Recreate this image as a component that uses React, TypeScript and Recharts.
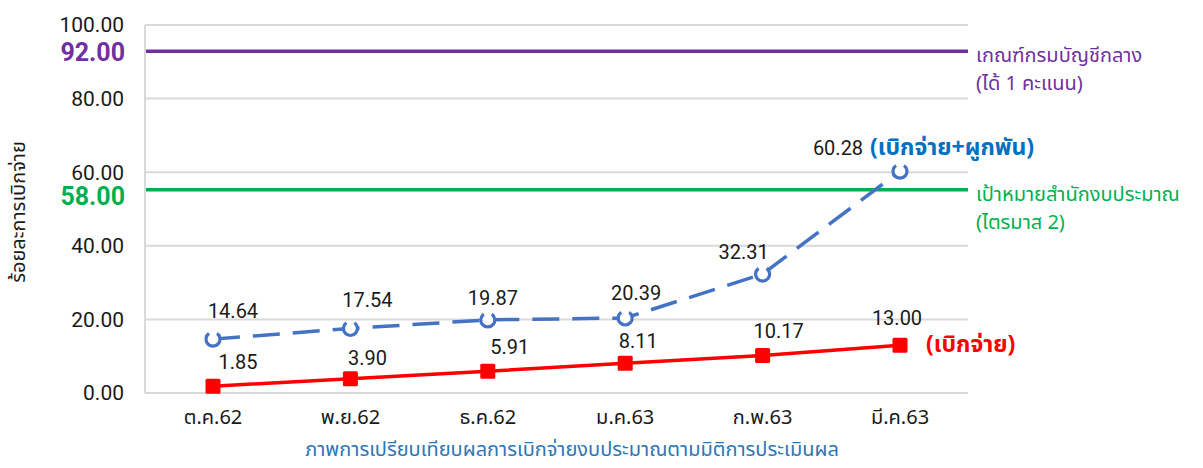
import { LineChart, Line, XAxis, YAxis, CartesianGrid, ReferenceLine } from "recharts";

const months = ["ต.ค.62", "พ.ย.62", "ธ.ค.62", "ม.ค.63", "ก.พ.63", "มี.ค.63"];
const committed = [14.64, 17.54, 19.87, 20.39, 32.31, 60.28];
const disbursed = [1.85, 3.9, 5.91, 8.11, 10.17, 13.0];
const yTicks = [0, 20, 40, 60, 80, 100];

// where the two target lines sit in the picture, and what their labels say
const cgdLine = 92.9;
const cgdLabel = "92.00";
const budgetLine = 55.2;
const budgetLabel = "58.00";

// label nudges (dx, dy) per point, as in the original Excel chart
const committedShift = [[20, -28], [17, -28], [5, -22], [11, -25], [-19, -22], [-62, -23]];
const disbursedShift = [[25, -24], [17, -21], [22, -24], [13, -22], [16, -25], [-3, -27]];

const data = months.map((m, i) => ({ month: m, committed: committed[i], disbursed: disbursed[i] }));

const FONT = "'Noto Sans Thai', Tahoma, Roboto, sans-serif";
const NUM_FONT = "Roboto, 'Noto Sans', sans-serif";

const OpenCircle = (props: any) => {
  const { cx, cy } = props;
  if (cx == null || cy == null) return null;
  return (
    <g>
      <circle cx={cx} cy={cy} r={7} fill="#fff" />
      <path
        d={`M ${cx + 4} ${cy - 5.7} A 7 7 0 1 1 ${cx - 4} ${cy - 5.7}`}
        fill="none"
        stroke="#4472C4"
        strokeWidth={3.2}
      />
    </g>
  );
};

const RedSquare = (props: any) => {
  const { cx, cy } = props;
  if (cx == null || cy == null) return null;
  return <rect x={cx - 7.5} y={cy - 7.5} width={15} height={15} rx={1.5} fill="#FF0000" />;
};

const makeLabel = (
  shift: number[][],
  values: number[],
  tag: string,
  tagColor: string,
  tagDx: number,
  tagDy: number
) => (props: any) => {
  const { x, y, index } = props;
  const [dx, dy] = shift[index];
  const isLast = index === values.length - 1;
  return (
    <g>
      <text x={x + dx} y={y + dy} textAnchor="middle" dominantBaseline="central" fontFamily={NUM_FONT} fontSize={20} fill="#1a1a1a">
        {values[index].toFixed(2)}
      </text>
      {isLast && (
        <text x={x + tagDx} y={y + tagDy} textAnchor="start" dominantBaseline="central" fontFamily={FONT} fontSize={23} fontWeight={700} fill={tagColor}>
          {tag}
        </text>
      )}
    </g>
  );
};

const targetLabel = (value: string, color: string, line1: string, line2: string, valueDy: number) => (props: any) => {
  const { viewBox } = props;
  const { x, y, width } = viewBox;
  return (
    <g>
      <text x={x - 20} y={y + valueDy} textAnchor="end" dominantBaseline="central" fontFamily={NUM_FONT} fontSize={25} fontWeight={700} fill={color}>
        {value}
      </text>
      <text x={x + width + 8} y={y + 5} textAnchor="start" dominantBaseline="central" fontFamily={FONT} fontSize={20} fill={color}>
        {line1}
      </text>
      <text x={x + width + 8} y={y + 33} textAnchor="start" dominantBaseline="central" fontFamily={FONT} fontSize={20} fill={color}>
        {line2}
      </text>
    </g>
  );
};

export default function App() {
  return (
    <div style={{ position: "absolute", left: 0, top: 0, width: 1203, height: 468, background: "#fff" }}>
      <LineChart width={1203} height={468} data={data} margin={{ top: 25, right: 235, bottom: 30, left: 0 }}>
        <CartesianGrid vertical={false} stroke="#D9D9D9" strokeWidth={2} />
        <XAxis
          dataKey="month"
          height={45}
          padding={{ left: 68, right: 68 }}
          axisLine={false}
          tickLine={false}
          tickSize={0}
          tickMargin={17}
          tick={{ fontFamily: FONT, fontSize: 20, fill: "#1a1a1a" }}
          interval={0}
        />
        <YAxis
          width={145}
          domain={[0, 100]}
          ticks={yTicks}
          tickFormatter={(v: number) => v.toFixed(2)}
          axisLine={{ stroke: "#D9D9D9", strokeWidth: 2 }}
          tickLine={false}
          tickSize={0}
          tickMargin={21}
          tick={{ fontFamily: NUM_FONT, fontSize: 21, fill: "#1a1a1a" }}
        />
        <ReferenceLine
          y={cgdLine}
          stroke="#7030A0"
          strokeWidth={3.5}
          label={targetLabel(cgdLabel, "#7030A0", "เกณฑ์กรมบัญชีกลาง", "(ได้ 1 คะแนน)", 1)}
        />
        <ReferenceLine
          y={budgetLine}
          stroke="#00B050"
          strokeWidth={3.5}
          label={targetLabel(budgetLabel, "#00B050", "เป้าหมายสำนักงบประมาณ", "(ไตรมาส 2)", 7)}
        />
        <Line
          dataKey="disbursed"
          stroke="#FF0000"
          strokeWidth={3.5}
          dot={<RedSquare />}
          activeDot={false}
          isAnimationActive={false}
          label={makeLabel(disbursedShift, disbursed, "(เบิกจ่าย)", "#FF0000", 26, 0)}
        />
        <Line
          dataKey="committed"
          stroke="#4472C4"
          strokeWidth={3.5}
          strokeDasharray="27 13"
          dot={<OpenCircle />}
          activeDot={false}
          isAnimationActive={false}
          label={makeLabel(committedShift, committed, "(เบิกจ่าย+ผูกพัน)", "#0070C0", -30, -23)}
        />
        <text x={19} y={212} transform="rotate(-90 19 212)" textAnchor="middle" dominantBaseline="central" fontFamily={FONT} fontSize={20} fill="#1a1a1a">
          ร้อยละการเบิกจ่าย
        </text>
        <text x={572} y={450} textAnchor="middle" dominantBaseline="central" fontFamily={FONT} fontSize={20} fill="#2E75B6">
          ภาพการเปรียบเทียบผลการเบิกจ่ายงบประมาณตามมิติการประเมินผล
        </text>
      </LineChart>
    </div>
  );
}
